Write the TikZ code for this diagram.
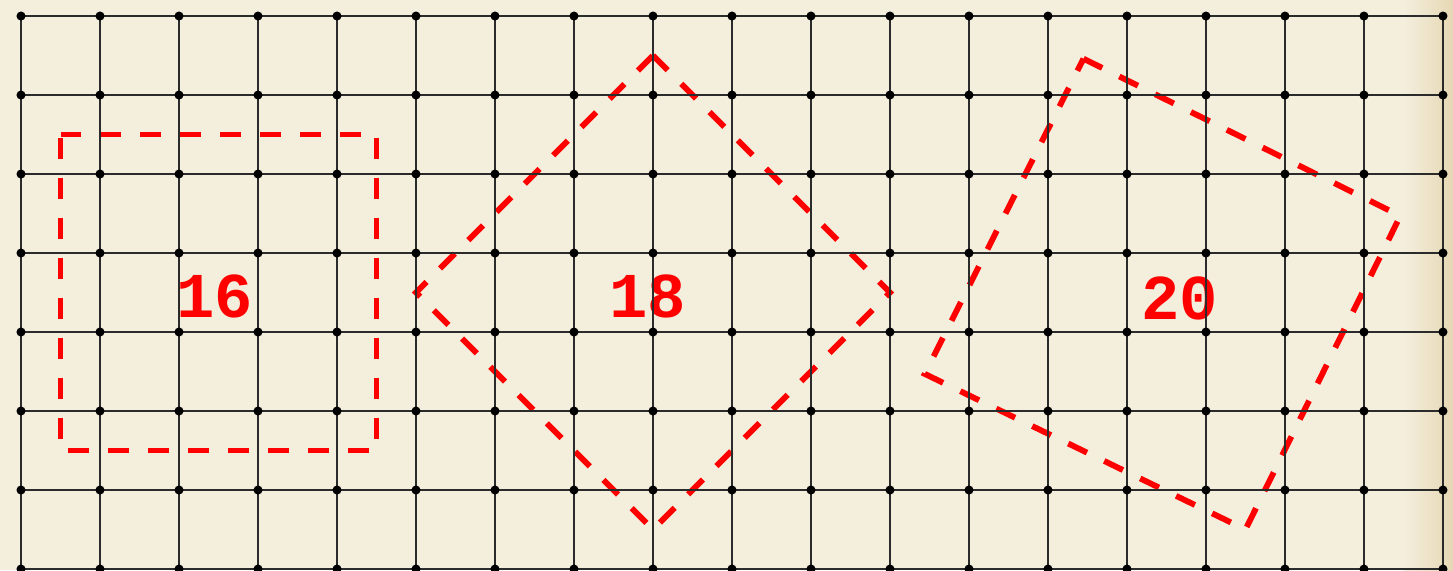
\documentclass[tikz,border=0pt]{standalone}
\usepackage{fontspec}
\usepackage{xcolor}
\newfontfamily\countfont{Liberation Mono}
\definecolor{paper}{HTML}{F4EEDD}
\definecolor{paper-edge}{HTML}{E6D8B4}
\definecolor{grid-gray}{HTML}{2B2B2B}
\tikzset{
    grid-line/.style = {draw=grid-gray, line width=0.7pt},
    grid-dot/.style = {circle, fill=black, inner sep=0pt, minimum size=1.15mm},
    dashed-square/.style = {draw=red, line width=2.1pt, dash pattern=on 7.5pt off 6.9pt},
    count-label/.style = {text=red, font=\countfont\bfseries\fontsize{23}{23}\selectfont},
}

\begin{document}
\begin{tikzpicture}
\useasboundingbox (-0.266,-0.013) rectangle (18.127,7.203);
\fill[paper] (-0.266,-0.013) rectangle (18.127,7.203);
\shade[left color=paper, right color=paper-edge] (17.5,-0.013) rectangle (18.127,7.203);

% first square, sides on the grid
\coordinate (a1) at (0.5,5.5);
\coordinate (a2) at (4.5,5.5);
\coordinate (a3) at (4.5,1.5);
\coordinate (a4) at (0.5,1.5);
\draw[dashed-square] (a1) -- (a2) -- (a3) -- (a4) -- cycle;
\node[count-label] (count-a) at (2.45,3.45) {16};

% second square, turned by 45 degrees
\coordinate (b1) at (8,6.5);
\coordinate (b2) at (11,3.5);
\coordinate (b3) at (8,0.5);
\coordinate (b4) at (5,3.5);
\draw[dashed-square] (b1) -- (b2) -- (b3) -- (b4) -- cycle;
\node[count-label] (count-b) at (7.93,3.45) {18};

% third square, sides 4 by 2
\coordinate (c1) at (13.45,6.46);
\coordinate (c2) at (17.46,4.47);
\coordinate (c3) at (15.5,0.5);
\coordinate (c4) at (11.44,2.47);
\draw[dashed-square] (c1) -- (c2) -- (c3) -- (c4) -- cycle;
\node[count-label] (count-c) at (14.67,3.43) {20};

% lattice on top
\foreach \x in {0,...,18}
    \foreach \y in {0,...,7}
        \coordinate (p-\x-\y) at (\x,\y);
\foreach \y in {0,...,7}
    \draw[grid-line] (p-0-\y) -- (p-18-\y);
\foreach \x in {0,...,18}
    \draw[grid-line] (p-\x-0) -- (p-\x-7);
\foreach \x in {0,...,18}
    \foreach \y in {0,...,7}
        \node[grid-dot] (dot-\x-\y) at (p-\x-\y) {};
\end{tikzpicture}
\end{document}
